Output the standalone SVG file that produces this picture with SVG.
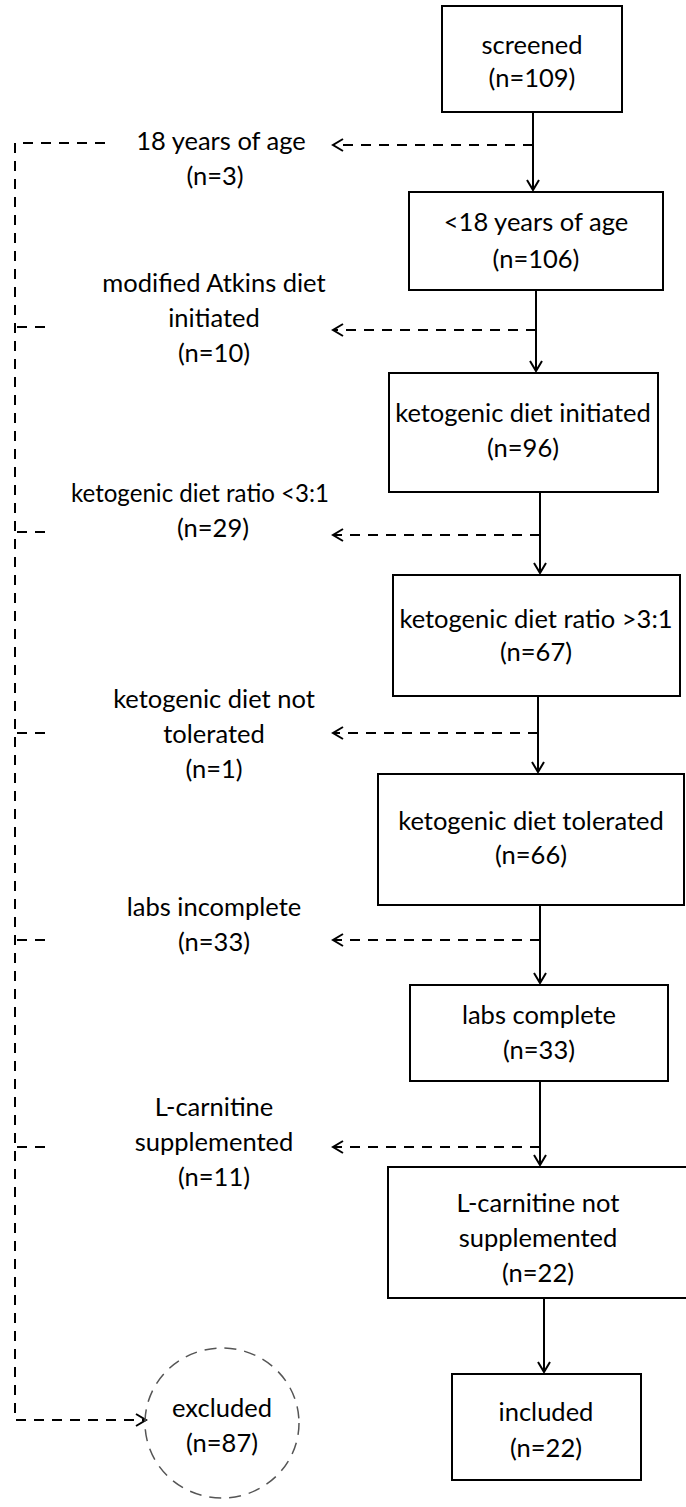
<svg xmlns="http://www.w3.org/2000/svg" width="686" height="1507" viewBox="0 0 686 1507">
<defs>
<marker id="arr" markerWidth="14" markerHeight="14" viewBox="-12 -7 14 14" refX="0" refY="0" orient="auto" markerUnits="userSpaceOnUse">
<path d="M-10,-6 L0,0 L-10,6" fill="none" stroke="#000" stroke-width="2"/>
</marker>
<style>
.box{fill:#fff;stroke:#000;stroke-width:2}
.t{font-family:Lato,"Liberation Sans",sans-serif;font-size:25.5px;fill:#000;text-anchor:middle}
.solid{stroke:#000;stroke-width:2;fill:none}
.dash{stroke:#000;stroke-width:2;fill:none;stroke-dasharray:10 8}
.circ{fill:none;stroke:#555;stroke-width:1.5;stroke-dasharray:12 8}
</style>
</defs>
<rect width="686" height="1507" fill="#fff"/>
<g id="connectors">
<path class="solid" d="M533,112 V190" marker-end="url(#arr)"/>
<path class="solid" d="M536,290 V371" marker-end="url(#arr)"/>
<path class="solid" d="M540,492 V573" marker-end="url(#arr)"/>
<path class="solid" d="M538,696 V772" marker-end="url(#arr)"/>
<path class="solid" d="M540,905 V983" marker-end="url(#arr)"/>
<path class="solid" d="M540,1081 V1165" marker-end="url(#arr)"/>
<path class="solid" d="M544,1298 V1372" marker-end="url(#arr)"/>
<path class="dash" d="M533,145 H333" marker-end="url(#arr)"/>
<path class="dash" d="M536,330 H333" marker-end="url(#arr)"/>
<path class="dash" d="M540,535 H333" marker-end="url(#arr)"/>
<path class="dash" d="M538,733 H333" marker-end="url(#arr)"/>
<path class="dash" d="M540,940 H333" marker-end="url(#arr)"/>
<path class="dash" d="M540,1147 H333" marker-end="url(#arr)"/>
<path class="dash" d="M105,143 H15 V1420 H146" marker-end="url(#arr)"/>
<path class="dash" d="M45,327 H15"/>
<path class="dash" d="M45,532 H15"/>
<path class="dash" d="M45,733 H15"/>
<path class="dash" d="M45,940 H15"/>
<path class="dash" d="M45,1147 H15"/>
</g>
<g id="n1"><rect class="box" x="442" y="6" width="180" height="106"/><text class="t" x="532" y="54">screened</text><text class="t" x="532" y="87">(n=109)</text></g>
<g id="n2"><rect class="box" x="409" y="192" width="254" height="98"/><text class="t" x="536" y="231">&lt;18 years of age</text><text class="t" x="536" y="268">(n=106)</text></g>
<g id="n3"><rect class="box" x="389" y="373" width="269" height="119"/><text class="t" x="523" y="422">ketogenic diet initiated</text><text class="t" x="523" y="457">(n=96)</text></g>
<g id="n4"><rect class="box" x="393" y="575" width="287" height="121"/><text class="t" x="536" y="628">ketogenic diet ratio &gt;3:1</text><text class="t" x="536" y="661">(n=67)</text></g>
<g id="n5"><rect class="box" x="378" y="774" width="306" height="131"/><text class="t" x="531" y="830">ketogenic diet tolerated</text><text class="t" x="531" y="864">(n=66)</text></g>
<g id="n6"><rect class="box" x="410" y="985" width="258" height="96"/><text class="t" x="539" y="1024">labs complete</text><text class="t" x="539" y="1059">(n=33)</text></g>
<g id="n7"><rect class="box" x="388" y="1167" width="300" height="131"/><text class="t" x="538" y="1212">L-carnitine not</text><text class="t" x="538" y="1247">supplemented</text><text class="t" x="538" y="1282">(n=22)</text></g>
<g id="n8"><rect class="box" x="452" y="1374" width="189" height="106"/><text class="t" x="546" y="1421">included</text><text class="t" x="546" y="1457">(n=22)</text></g>
<g id="n9"><ellipse class="circ" cx="222" cy="1423" rx="77" ry="75"/><text class="t" x="222" y="1417">excluded</text><text class="t" x="222" y="1452">(n=87)</text></g>
<g id="l1"><text class="t" x="221" y="150">18 years of age</text><text class="t" x="215" y="185">(n=3)</text></g>
<g id="l2"><text class="t" x="214" y="292">modified Atkins diet</text><text class="t" x="214" y="327">initiated</text><text class="t" x="214" y="362">(n=10)</text></g>
<g id="l3"><text class="t" x="200" y="502" textLength="258" lengthAdjust="spacingAndGlyphs">ketogenic diet ratio &lt;3:1</text><text class="t" x="213" y="537">(n=29)</text></g>
<g id="l4"><text class="t" x="214" y="708">ketogenic diet not</text><text class="t" x="214" y="743">tolerated</text><text class="t" x="214" y="778">(n=1)</text></g>
<g id="l5"><text class="t" x="214" y="916">labs incomplete</text><text class="t" x="214" y="951">(n=33)</text></g>
<g id="l6"><text class="t" x="214" y="1116">L-carnitine</text><text class="t" x="214" y="1151">supplemented</text><text class="t" x="214" y="1186">(n=11)</text></g>
</svg>
